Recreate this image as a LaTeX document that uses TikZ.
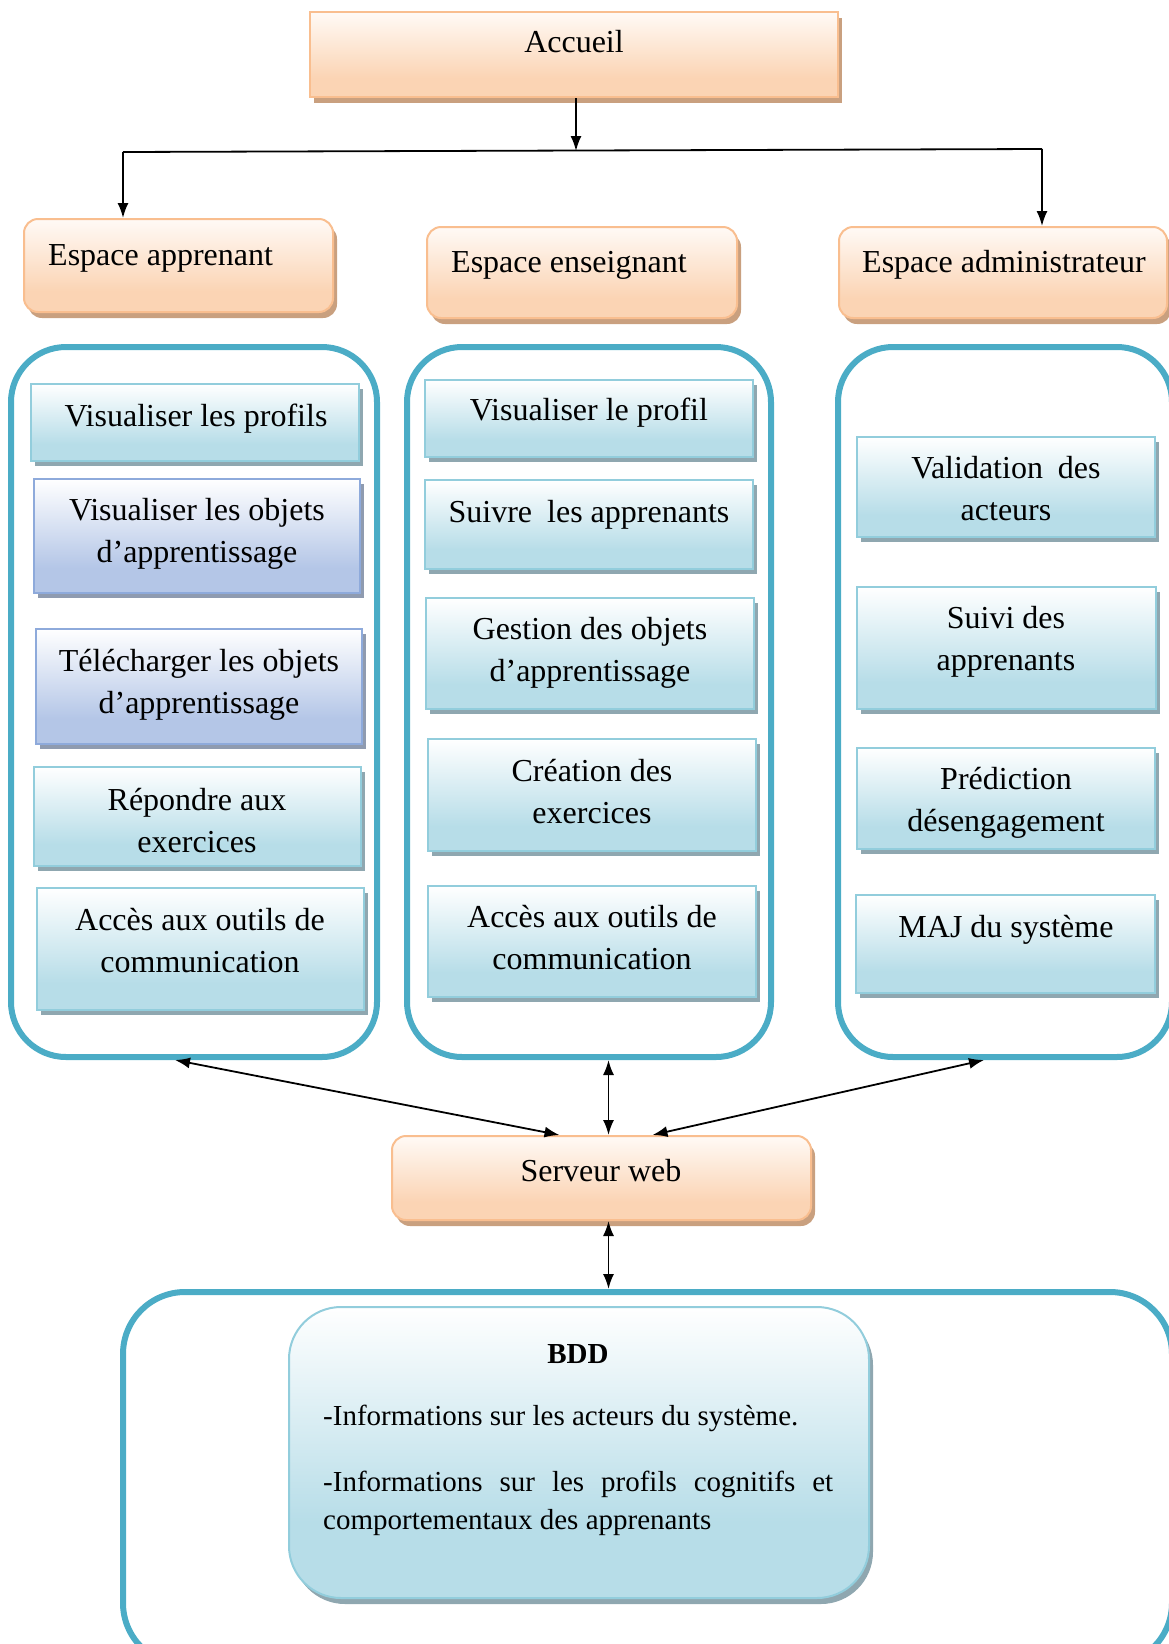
\documentclass[tikz,border=0pt]{standalone}
\usepackage{fontspec}
\setmainfont{Liberation Serif}
\usetikzlibrary{arrows.meta,shadows}

% palette
\definecolor{peachB}{HTML}{FBD4B4}
\definecolor{peachT}{HTML}{FFFAF6}
\definecolor{peachL}{HTML}{F9BE8F}
\definecolor{peachS}{HTML}{C9A07F}
\definecolor{aquaB}{HTML}{B7DDE8}
\definecolor{aquaL}{HTML}{92CDDC}
\definecolor{aquaS}{HTML}{8FA7B0}
\definecolor{lavB}{HTML}{B4C6E7}
\definecolor{lavL}{HTML}{8EAADB}
\definecolor{lavS}{HTML}{8F9BB0}
\definecolor{frameC}{HTML}{4BACC6}

% vertical fills: light at the top, full colour in the lower part
\pgfdeclareverticalshading{peachsh}{100bp}{color(0bp)=(peachB); color(25bp)=(peachB); color(36bp)=(peachB); color(75bp)=(peachT); color(100bp)=(peachT)}
\pgfdeclareverticalshading{aquash}{100bp}{color(0bp)=(aquaB); color(25bp)=(aquaB); color(36bp)=(aquaB); color(75bp)=(white); color(100bp)=(white)}
\pgfdeclareverticalshading{lavsh}{100bp}{color(0bp)=(lavB); color(25bp)=(lavB); color(36bp)=(lavB); color(75bp)=(white); color(100bp)=(white)}
\pgfdeclareverticalshading{bddsh}{100bp}{color(0bp)=(aquaB); color(25bp)=(aquaB); color(38bp)=(aquaB); color(75bp)=(white); color(100bp)=(white)}

% box from its corners: style, name, x1, y1, x2, y2
\newcommand\panel[6]{\node[#1, minimum width={(#5)-(#3)}, minimum height={(#6)-(#4)}] (#2) at ({((#3)+(#5))/2},{((#4)+(#6))/2}) {};}

\begin{document}
\begin{tikzpicture}[x=1pt, y=-1pt,
  orange/.style={draw=peachL, line width=2pt, shading=peachsh, inner sep=0pt,
    drop shadow={shadow xshift=4pt, shadow yshift=-6pt, fill=peachS, opacity=1}},
  aqua/.style={draw=aquaL, line width=2pt, shading=aquash, inner sep=0pt,
    drop shadow={shadow xshift=4pt, shadow yshift=-5pt, fill=aquaS, opacity=1}},
  lav/.style={draw=lavL, line width=2pt, shading=lavsh, inner sep=0pt,
    drop shadow={shadow xshift=4pt, shadow yshift=-5pt, fill=lavS, opacity=1}},
  bddbox/.style={draw=aquaL, line width=2pt, shading=bddsh, inner sep=0pt, rounded corners=52pt,
    drop shadow={shadow xshift=4pt, shadow yshift=-6pt, fill=aquaS, opacity=1}},
  frame/.style={draw=frameC, line width=6pt, rounded corners=55pt, inner sep=0pt},
  lbl/.style={font=\fontsize{32}{42}\selectfont, align=center, inner sep=0pt},
  lblw/.style={font=\fontsize{32}{42}\selectfont, anchor=west, inner sep=0pt},
  note/.style={font=\fontsize{29}{39}\selectfont, anchor=west, inner sep=0pt},
  link/.style={line width=1.8pt},
  arr/.style={line width=1.8pt, -{Latex[length=15pt,width=11pt]}},
  darr/.style={line width=1.8pt, {Latex[length=15pt,width=11pt]}-{Latex[length=15pt,width=11pt]}}
]
\useasboundingbox (0,0) rectangle (1169,1644);
\clip (0,0) rectangle (1169,1644);

% column frames and database frame
\panel{frame}{cL}{11}{347}{377}{1057}
\panel{frame}{cM}{407}{347}{771}{1057}
\panel{frame}{cR}{838}{347}{1172}{1057}
\panel{frame, rounded corners=62pt}{cB}{123}{1292}{1172}{1665}

% header boxes
\panel{orange}{acc}{310}{12}{838}{97}
\panel{orange, rounded corners=14pt}{ea}{24}{219}{333}{312}
\panel{orange, rounded corners=14pt}{ee}{427}{227}{737}{318}
\panel{orange, rounded corners=14pt}{ead}{839}{227}{1167}{318}
\panel{orange, rounded corners=14pt}{sv}{392}{1136}{811}{1220}

\node[lbl] (accT) at (574,42) {Accueil};
\node[lblw] (eaT) at (48,258) {Espace apprenant};
\node[lblw] (eeT) at (451,265) {Espace enseignant};
\node[lblw] (eadT) at (862,265) {Espace administrateur};
\node[lbl] (svT) at (601,1171) {Serveur web};

% learner column
\panel{aqua}{l1}{31}{384}{359}{461}
\panel{lav}{l2}{34}{479}{360}{593}
\panel{lav}{l3}{36}{629}{362}{744}
\panel{aqua}{l4}{34}{767}{361}{866}
\panel{aqua}{l5}{37}{888}{364}{1010}
\node[lbl] (l1T) at (196,419) {Visualiser les profils};
\node[lbl] (l2T) at (197,534) {Visualiser les objets\\d’apprentissage};
\node[lbl] (l3T) at (199,685) {Télécharger les objets\\d’apprentissage};
\node[lbl] (l4T) at (197,821) {Répondre aux\\exercices};
\node[lbl] (l5T) at (200,941) {Accès aux outils de\\communication};

% teacher column
\panel{aqua}{m1}{425}{380}{753}{457}
\panel{aqua}{m2}{425}{480}{753}{569}
\panel{aqua}{m3}{426}{598}{754}{709}
\panel{aqua}{m4}{428}{739}{756}{851}
\panel{aqua}{m5}{428}{886}{756}{997}
\node[lbl] (m1T) at (589,413) {Visualiser le profil};
\node[lbl] (m2T) at (589,515) {Suivre\hspace{15pt}les apprenants};
\node[lbl] (m3T) at (590,653) {Gestion des objets\\d’apprentissage};
\node[lbl] (m4T) at (592,792) {Création des\\exercices};
\node[lbl] (m5T) at (592,938) {Accès aux outils de\\communication};

% administrator column
\panel{aqua}{r1}{857}{437}{1155}{537}
\panel{aqua}{r2}{857}{587}{1156}{709}
\panel{aqua}{r3}{857}{748}{1155}{849}
\panel{aqua}{r4}{856}{895}{1155}{993}
\node[lbl] (r1T) at (1006,489) {Validation\hspace{15pt}des\\acteurs};
\node[lbl] (r2T) at (1006,642) {Suivi des\\apprenants};
\node[lbl] (r3T) at (1006,803) {Prédiction\\désengagement};
\node[lbl] (r4T) at (1006,930) {MAJ du système};

% database
\panel{bddbox}{bdd}{289}{1307}{869}{1598}
\node[font=\fontsize{29}{39}\selectfont\bfseries, inner sep=0pt] (bddT) at (578,1354) {BDD};
\node[note] (bdd1) at (323,1418) {-Informations sur les acteurs du système.};
\node[note] (bdd2) at (323,1484) {\hbox to 510pt{-Informations\hfill sur\hfill les\hfill profils\hfill cognitifs\hfill et}};
\node[note] (bdd3) at (323,1523) {comportementaux des apprenants};

% top distribution
\coordinate (jM) at (576,151);
\coordinate (jL) at (123,152);
\coordinate (jR) at (1042,149);
\draw[arr] (acc.south -| jM) -- (jM);
\draw[link] (jL) -- (jR);
\draw[arr] (jL) -- (jL |- ea.north);
\draw[arr] (jR) -- (jR |- ead.north);

% links to the web server
\draw[darr] ([xshift=-19pt]cL.south) -- ([xshift=-42pt]sv.north);
\draw[darr] ([xshift=7pt]sv.north) -- ([xshift=7pt]sv.north |- cM.south);
\draw[darr] ([xshift=-21pt]cR.south) -- ([xshift=51pt]sv.north);
\draw[darr] ([xshift=7pt]sv.south) -- ([xshift=7pt]sv.south |- cB.north);
\end{tikzpicture}
\end{document}
